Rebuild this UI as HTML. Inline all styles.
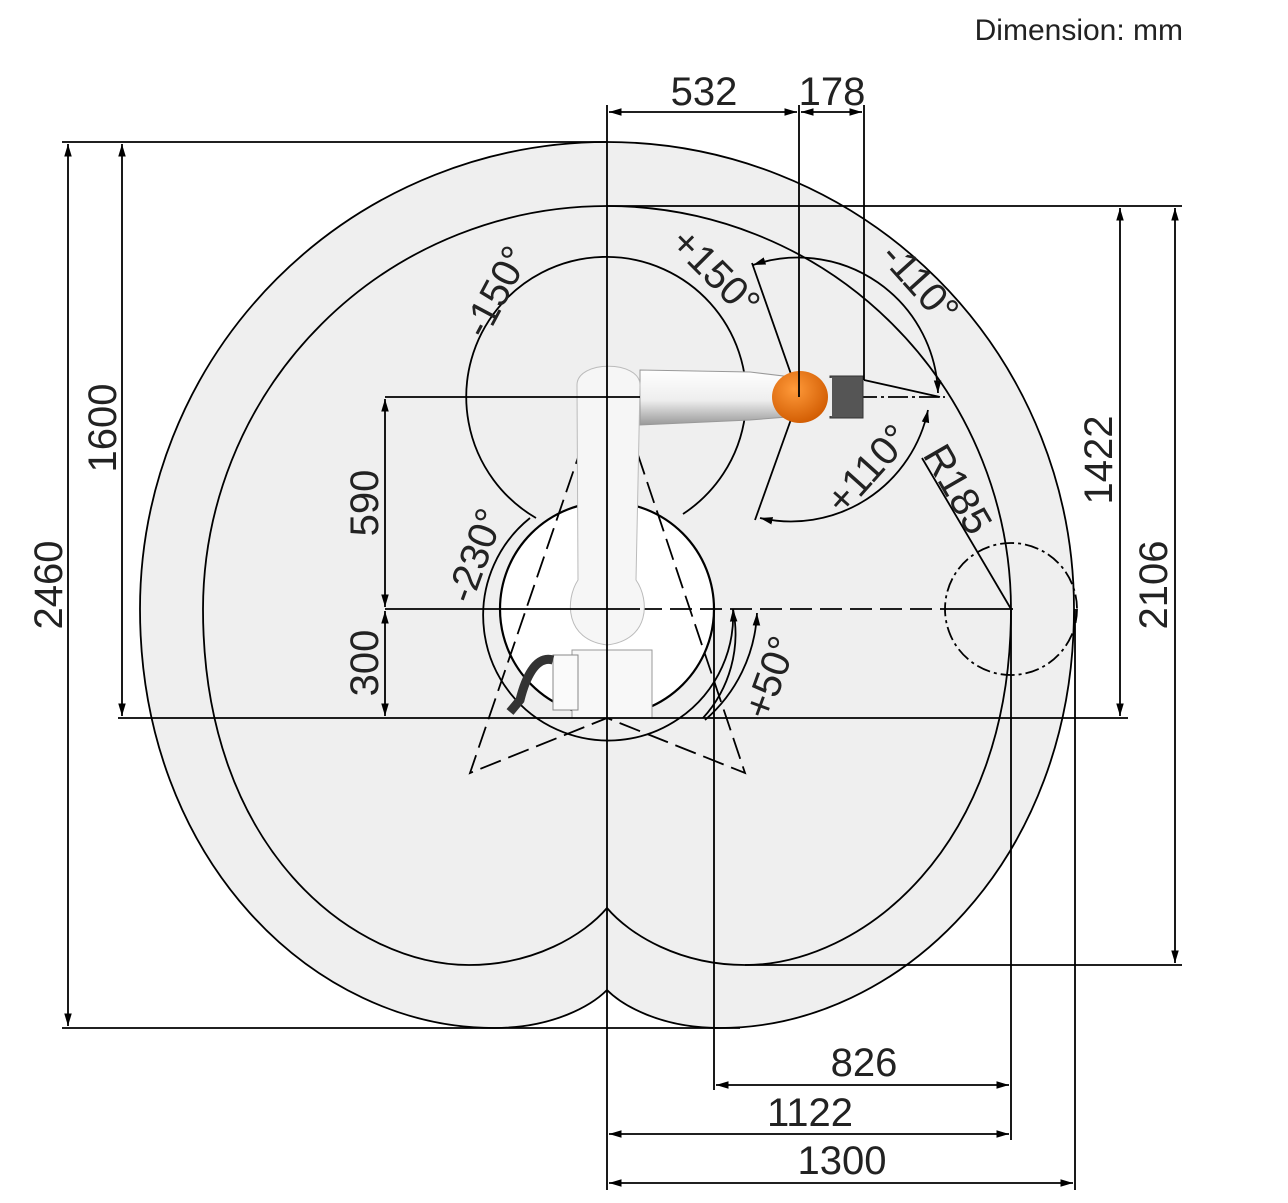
<!DOCTYPE html>
<html><head><meta charset="utf-8"><style>
html,body{margin:0;padding:0;background:#fff;}
svg{display:block;}
text{font-family:"Liberation Sans",sans-serif;fill:#222;}
</style></head><body>
<svg width="1288" height="1203" viewBox="0 0 1288 1203" xmlns="http://www.w3.org/2000/svg">
<defs>
<marker id="a" viewBox="0 0 10 10" refX="10" refY="5" markerWidth="7" markerHeight="7" orient="auto-start-reverse"><path d="M0,2 L10,5 L0,8 z" fill="#000"/></marker>
<linearGradient id="g" x1="0" y1="0" x2="0" y2="1"><stop offset="0" stop-color="#fff"/><stop offset="0.55" stop-color="#eee"/><stop offset="1" stop-color="#999"/></linearGradient>
<radialGradient id="o" cx="0.4" cy="0.35" r="0.7"><stop offset="0" stop-color="#ff9a3a"/><stop offset="1" stop-color="#d05a00"/></radialGradient>
</defs>
<path d="M607,142 A467,467 0 0 1 1074,609 C1074,860 900,1028 720,1028 C660,1028 622,1005 607,990 C592,1005 554,1028 494,1028 C314,1028 140,860 140,609 A467,467 0 0 1 607,142 Z" fill="#efefef" stroke="#000" stroke-width="1.8"/>
<path d="M607,206 A404,404 0 0 1 1011,609 C1011,850 860,965 745,965 C680,965 630,935 607,908 C584,935 534,965 469,965 C354,965 203,850 203,609 A404,404 0 0 1 607,206 Z" fill="#efefef" stroke="#000" stroke-width="1.8"/>
<circle cx="607" cy="609" r="107" fill="#fff" stroke="#000" stroke-width="2.2"/>
<path d="M530,518 A125,125 0 1 0 733,609" fill="none" stroke="#000" stroke-width="1.8" marker-end="url(#a)"/>
<path d="M733,609 A125,125 0 0 1 703,718" fill="none" stroke="#000" stroke-width="1.8"/>
<path d="M757,613 A150,150 0 0 1 705,720" fill="none" stroke="#000" stroke-width="1.8" marker-start="url(#a)"/>
<path d="M536,518 A140,140 0 1 1 683,514" fill="none" stroke="#000" stroke-width="1.8"/>
<path d="M753,265 A140,140 0 0 1 938,393" fill="none" stroke="#000" stroke-width="1.8" marker-start="url(#a)" marker-end="url(#a)"/>
<path d="M760,518 A140,140 0 0 0 928,410" fill="none" stroke="#000" stroke-width="1.8" marker-start="url(#a)" marker-end="url(#a)"/>
<line x1="799" y1="397" x2="752" y2="263" stroke="#000" stroke-width="1.8"/>
<line x1="799" y1="397" x2="755" y2="520" stroke="#000" stroke-width="1.8"/>
<circle cx="1011" cy="609" r="66" fill="none" stroke="#000" stroke-width="1.8" stroke-dasharray="14,4,3,4"/>
<line x1="922" y1="458" x2="1011" y2="609" stroke="#000" stroke-width="1.8"/>
<g stroke="#000" stroke-width="1.8" stroke-dasharray="22,8" fill="none">
<path d="M583,443 L470,773 L607,718 L745,773 L634,443"/>
<line x1="640" y1="609" x2="945" y2="609"/>
</g>
<line x1="640" y1="397" x2="945" y2="397" stroke="#000" stroke-width="1.8" stroke-dasharray="20,4,3,4"/>
<rect x="572" y="650" width="80" height="68" fill="#f8f8f8" stroke="#999"/>
<rect x="553" y="655" width="25" height="55" fill="#fafafa" stroke="#888"/>
<path d="M553,660 C535,655 525,680 520,700 L510,712" stroke="#333" stroke-width="9" fill="none"/>
<path d="M640,370 L750,372 L800,378 L800,416 L750,420 L640,425 Z" fill="url(#g)" stroke="#999"/>
<rect x="830" y="376" width="33" height="42" fill="#555" stroke="#333"/>
<rect x="820" y="378" width="12" height="38" fill="#eee"/>
<ellipse cx="800" cy="397" rx="28" ry="26" fill="url(#o)"/>
<path d="M577,385 C577,360 640,360 640,385 L636,580 C650,600 650,640 607,645 C565,640 565,600 578,580 Z" fill="#f6f6f6" stroke="#bbb"/>
<g stroke="#000" stroke-width="1.8" fill="none">
<line x1="607" y1="105" x2="607" y2="1190"/>
<line x1="799" y1="105" x2="799" y2="397"/>
<line x1="864" y1="105" x2="864" y2="380"/>
<line x1="385" y1="397" x2="640" y2="397"/>
<line x1="385" y1="609" x2="640" y2="609"/>
<line x1="945" y1="609" x2="1013" y2="609"/>
<line x1="118" y1="718" x2="1128" y2="718"/>
<line x1="62" y1="142" x2="607" y2="142"/>
<line x1="62" y1="1028" x2="740" y2="1028"/>
<line x1="607" y1="206" x2="1182" y2="206"/>
<line x1="745" y1="965" x2="1182" y2="965"/>
<line x1="714" y1="609" x2="714" y2="1090"/>
<line x1="1011" y1="609" x2="1011" y2="1140"/>
<line x1="1075" y1="609" x2="1075" y2="1190"/>
<line x1="864" y1="380" x2="940" y2="397"/>
</g>
<g stroke="#000" stroke-width="1.8" marker-start="url(#a)" marker-end="url(#a)">
<line x1="609" y1="112" x2="797" y2="112"/>
<line x1="801" y1="112" x2="862" y2="112"/>
<line x1="68" y1="144" x2="68" y2="1026"/>
<line x1="122" y1="144" x2="122" y2="716"/>
<line x1="385" y1="399" x2="385" y2="607"/>
<line x1="385" y1="611" x2="385" y2="716"/>
<line x1="1120" y1="208" x2="1120" y2="716"/>
<line x1="1175" y1="208" x2="1175" y2="963"/>
<line x1="716" y1="1085" x2="1009" y2="1085"/>
<line x1="609" y1="1134" x2="1009" y2="1134"/>
<line x1="609" y1="1183" x2="1073" y2="1183"/>
</g>
<g font-size="40">
<text x="1183" y="40" font-size="30" text-anchor="end">Dimension: mm</text>
<text x="704" y="105" text-anchor="middle">532</text>
<text x="832" y="105" text-anchor="middle">178</text>
<text x="864" y="1076" text-anchor="middle">826</text>
<text x="810" y="1126" text-anchor="middle">1122</text>
<text x="842" y="1174" text-anchor="middle">1300</text>
<text transform="translate(62,585) rotate(-90)" text-anchor="middle">2460</text>
<text transform="translate(116,428) rotate(-90)" text-anchor="middle">1600</text>
<text transform="translate(378,503) rotate(-90)" text-anchor="middle">590</text>
<text transform="translate(378,663) rotate(-90)" text-anchor="middle">300</text>
<text transform="translate(1112,460) rotate(-90)" text-anchor="middle">1422</text>
<text transform="translate(1167,585) rotate(-90)" text-anchor="middle">2106</text>
<text transform="translate(508,298) rotate(-62)" text-anchor="middle">-150°</text>
<text transform="translate(706,282) rotate(45)" text-anchor="middle">+150°</text>
<text transform="translate(910,292) rotate(48)" text-anchor="middle">-110°</text>
<text transform="translate(878,478) rotate(-48)" text-anchor="middle">+110°</text>
<text transform="translate(946,496) rotate(60)" text-anchor="middle">R185</text>
<text transform="translate(488,560) rotate(-70)" text-anchor="middle">-230°</text>
<text transform="translate(783,682) rotate(-70)" text-anchor="middle">+50°</text>
</g>
</svg>
</body></html>
